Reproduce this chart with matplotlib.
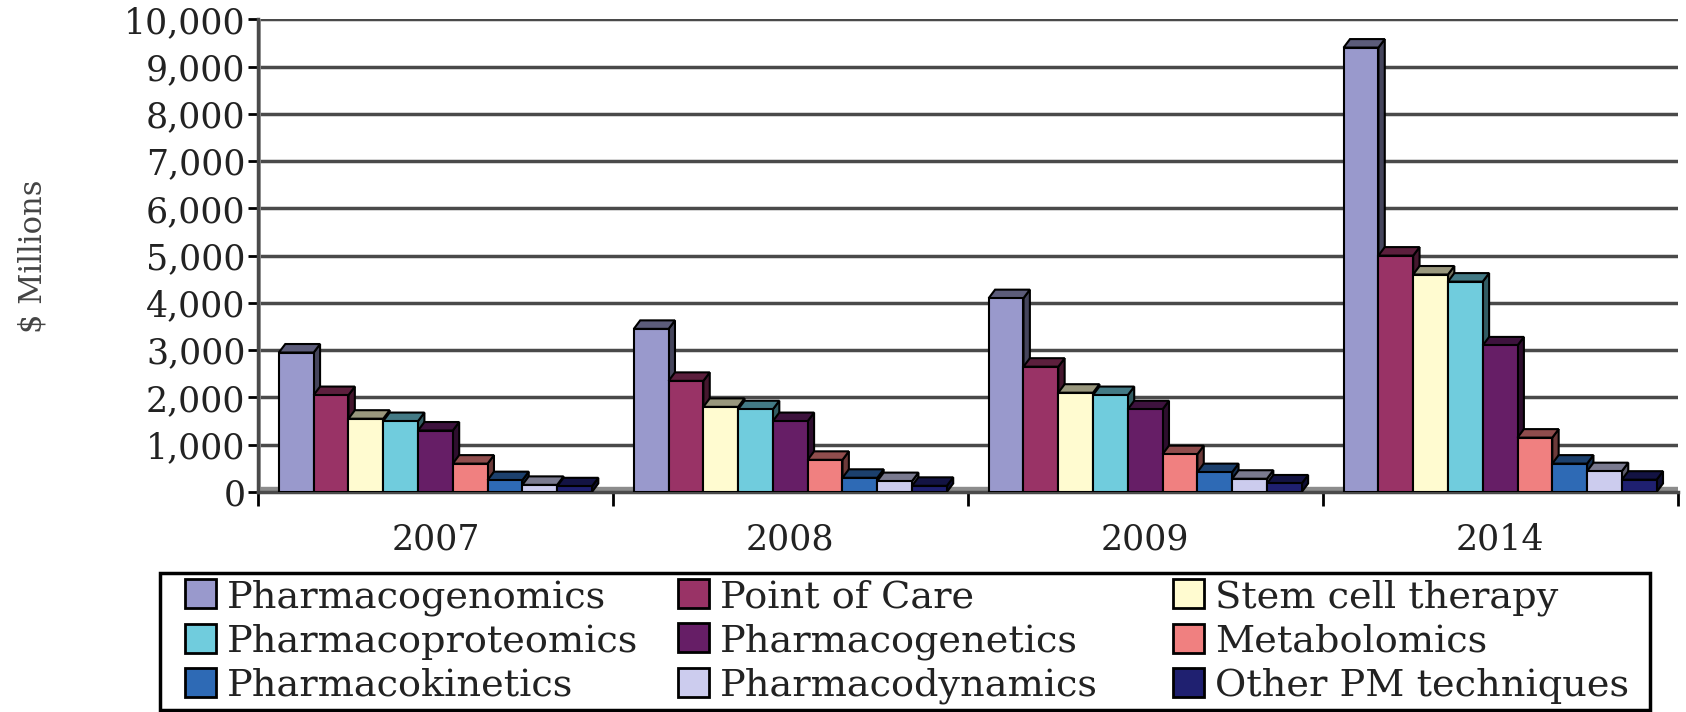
import matplotlib
matplotlib.use("Agg")
import matplotlib.pyplot as plt
import numpy as np
from matplotlib.patches import Polygon, Patch, Rectangle
from matplotlib.colors import to_rgb

years = ["2007", "2008", "2009", "2014"]
series_names = ["Pharmacogenomics", "Point of Care", "Stem cell therapy",
                "Pharmacoproteomics", "Pharmacogenetics", "Metabolomics",
                "Pharmacokinetics", "Pharmacodynamics", "Other PM techniques"]
pharmacogenomics = [2950, 3450, 4100, 9400]
point_of_care = [2050, 2350, 2650, 5000]
stem_cell = [1550, 1800, 2100, 4600]
pharmacoproteomics = [1500, 1750, 2050, 4450]
pharmacogenetics = [1300, 1500, 1750, 3100]
metabolomics = [600, 680, 800, 1150]
pharmacokinetics = [250, 300, 420, 600]
pharmacodynamics = [150, 230, 280, 440]
other_pm = [120, 130, 180, 260]
values = [pharmacogenomics, point_of_care, stem_cell, pharmacoproteomics,
          pharmacogenetics, metabolomics, pharmacokinetics, pharmacodynamics, other_pm]
colors = ["#9999CC", "#993366", "#FFFBD0", "#70CCDD", "#661E66",
          "#F08080", "#2E6AB5", "#CCCCEE", "#1F2070"]
yticks = [0, 1000, 2000, 3000, 4000, 5000, 6000, 7000, 8000, 9000, 10000]
ytick_labels = ["0", "1,000", "2,000", "3,000", "4,000", "5,000", "6,000",
                "7,000", "8,000", "9,000", "10,000"]

plt.rcParams['font.family'] = ['DejaVu Serif']

W, H = 1686, 712
fig = plt.figure(figsize=(W / 100, H / 100), dpi=100)
ax = fig.add_axes([0.153, 0.309, 0.842, 0.664])

n = len(series_names)
step = 0.098
w = step
dx = 0.018
dy = 180

def shade(c, f):
    r, g, b = to_rgb(c)
    return (r * f, g * f, b * f)

x = np.arange(len(years))
for gi in range(len(years)):
    for si in range(n):
        h = values[si][gi]
        x0 = x[gi] - n * step / 2 + si * step
        c = colors[si]
        top = Polygon([(x0, h), (x0 + w, h), (x0 + w + dx, h + dy), (x0 + dx, h + dy)],
                      closed=True, facecolor=shade(c, 0.6), edgecolor="black", lw=1.5, zorder=3)
        side = Polygon([(x0 + w, 0), (x0 + w + dx, dy), (x0 + w + dx, h + dy), (x0 + w, h)],
                       closed=True, facecolor=shade(c, 0.45), edgecolor="black", lw=1.5, zorder=3)
        ax.add_patch(side)
        ax.add_patch(top)
        ax.bar(x0, h, width=w, align="edge", color=c, edgecolor="black", lw=1.5, zorder=3)

ax.set_xlim(-0.5, 3.5)
ax.set_ylim(0, 10000)
ax.set_yticks(yticks)
ax.set_yticklabels(ytick_labels, fontsize=25, color="#222222")
ax.set_xticks(x)
ax.set_xticklabels(years, fontsize=25, color="#222222")
ax.set_xticks(np.arange(-0.5, 4.0, 1.0), minor=True)
ax.tick_params(axis="x", which="major", length=0, pad=22)
ax.tick_params(axis="x", which="minor", length=10, width=2, direction="out")
ax.tick_params(axis="y", length=7, width=2, direction="out", pad=2)

for v in yticks[1:]:
    ax.axhline(v, color="#4a4a4a", lw=2.5, zorder=0)
ax.axhspan(0, dy * 0.6, color="#8c8c8c", zorder=1)
ax.axvline(-0.5 + 0.004, color="#9a9a9a", lw=2, zorder=1)

for s in ["top", "right"]:
    ax.spines[s].set_visible(False)
ax.spines["left"].set_color("#4a4a4a")
ax.spines["left"].set_linewidth(2.5)
ax.spines["bottom"].set_color("#4a4a4a")
ax.spines["bottom"].set_linewidth(2.5)

fig.text(33 / W, 1 - 256 / H, "$ Millions", rotation=90, fontsize=22, color="#444444",
         ha="center", va="center")

# legend frame
frame = Rectangle((160 / W, 1 - 710 / H), (1650 - 160) / W, (710 - 573) / H,
                  transform=fig.transFigure, facecolor="none", edgecolor="black",
                  lw=2.5, zorder=-1)
fig.patches.append(frame)

# legend: three columns, each filled top to bottom, read row by row
col_left = [185, 678, 1173]
fs = 27.5
for ci in range(3):
    idx = [ci, ci + 3, ci + 6]
    handles = [Patch(facecolor=colors[i], edgecolor="black", lw=2) for i in idx]
    labels = [series_names[i] for i in idx]
    leg = fig.legend(handles, labels, loc="upper left",
                     bbox_to_anchor=(col_left[ci] / W, 1 - 579 / H),
                     fontsize=fs, frameon=False, handlelength=0.8, handleheight=0.8,
                     handletextpad=0.3, borderpad=0, labelspacing=0.21, borderaxespad=0)
    for t in leg.get_texts():
        t.set_color("#222222")

fig.savefig("out.png", dpi=100)
